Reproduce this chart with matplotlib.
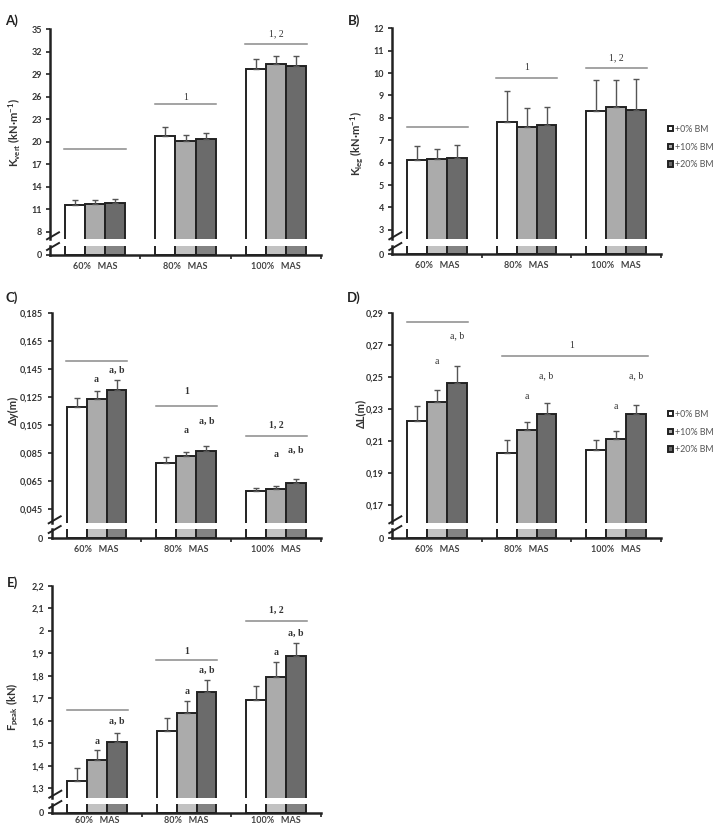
import matplotlib
matplotlib.use('Agg')
import matplotlib.pyplot as plt
from matplotlib.lines import Line2D
import numpy as np

plt.rcParams['mathtext.fontset'] = 'custom'
plt.rcParams['mathtext.rm'] = 'Lato:bold'
plt.rcParams['mathtext.it'] = 'Lato:italic:bold'
plt.rcParams['mathtext.bf'] = 'Lato:bold'

W, H = 718, 826

groups = ['60%   MAS', '80%   MAS', '100%   MAS']
series = ['+0% BM', '+10% BM', '+20% BM']
colors = ['white', '#ababab', '#6b6b6b']
stub_colors = ['white', '#c2c2c2', '#838383']

# A) K vert
A_mean = [[11.6, 20.75, 29.7], [11.75, 20.1, 30.4], [11.9, 20.35, 30.1]]
A_sd = [[0.7, 1.2, 1.4], [0.45, 0.8, 1.1], [0.5, 0.85, 1.4]]
A_ticks = [8, 11, 14, 17, 20, 23, 26, 29, 32, 35]
A_ticklabels = ['8', '11', '14', '17', '20', '23', '26', '29', '32', '35']
A_lines = [(-0.34, 0.34, 19.0), (0.66, 1.34, 25.1), (1.66, 2.34, 33.1)]
A_line_text = [(1, 25.9, '1'), (2, 34.4, '1, 2')]

# B) K leg
B_mean = [[6.1, 7.8, 8.33], [6.15, 7.6, 8.5], [6.2, 7.67, 8.37]]
B_sd = [[0.65, 1.38, 1.37], [0.48, 0.85, 1.2], [0.6, 0.83, 1.38]]
B_ticks = [3, 4, 5, 6, 7, 8, 9, 10, 11, 12]
B_ticklabels = ['3', '4', '5', '6', '7', '8', '9', '10', '11', '12']
B_lines = [(-0.34, 0.34, 7.6), (0.66, 1.34, 9.8), (1.66, 2.34, 10.24)]
B_line_text = [(1, 10.25, '1'), (2, 10.7, '1, 2')]

# C) delta y
C_mean = [[0.118, 0.0779, 0.058], [0.1234, 0.0829, 0.0597], [0.130, 0.0864, 0.064]]
C_sd = [[0.006, 0.0043, 0.0024], [0.0056, 0.0028, 0.0019], [0.007, 0.0036, 0.0028]]
C_ticks = [0.045, 0.065, 0.085, 0.105, 0.125, 0.145, 0.165, 0.185]
C_ticklabels = ['0,045', '0,065', '0,085', '0,105', '0,125', '0,145', '0,165', '0,185']
C_lines = [(-0.34, 0.34, 0.1507), (0.66, 1.34, 0.1188), (1.66, 2.34, 0.0974)]
C_line_text = [(1, 0.129, '1'), (2, 0.1045, '1, 2')]
C_a = [0.1376, 0.101, 0.0837]
C_ab = [0.144, 0.108, 0.087]

# D) delta L
D_mean = [[0.2223, 0.2027, 0.2047], [0.2344, 0.2167, 0.2113], [0.2463, 0.2266, 0.2266]]
D_sd = [[0.0096, 0.0079, 0.0059], [0.0074, 0.0055, 0.0052], [0.0104, 0.0071, 0.0061]]
D_ticks = [0.17, 0.19, 0.21, 0.23, 0.25, 0.27, 0.29]
D_ticklabels = ['0,17', '0,19', '0,21', '0,23', '0,25', '0,27', '0,29']
D_lines = [(-0.34, 0.34, 0.2844), (0.72, 2.35, 0.263)]
D_line_text = [(1.5, 0.2697, '1')]
D_a = [0.2594, 0.2378, 0.2318]
D_ab = [0.2755, 0.2505, 0.2505]

# E) F peak
E_mean = [[1.332, 1.553, 1.694], [1.4245, 1.635, 1.795], [1.504, 1.728, 1.887]]
E_sd = [[0.058, 0.059, 0.061], [0.047, 0.052, 0.066], [0.043, 0.053, 0.06]]
E_ticks = [1.3, 1.4, 1.5, 1.6, 1.7, 1.8, 1.9, 2.0, 2.1, 2.2]
E_ticklabels = ['1,3', '1,4', '1,5', '1,6', '1,7', '1,8', '1,9', '2', '2,1', '2,2']
E_lines = [(-0.34, 0.34, 1.648), (0.66, 1.34, 1.869), (1.66, 2.34, 2.043)]
E_line_text = [(1, 1.907, '1'), (2, 2.091, '1, 2')]
E_a = [1.509, 1.728, 1.904]
E_ab = [1.596, 1.824, 1.989]

fig = plt.figure(figsize=(W / 100, H / 100), dpi=100)
fig.patch.set_facecolor('white')

def rect(l, t, r, b):
    return [l / W, 1 - b / H, (r - l) / W, (b - t) / H]

def px_line(x0, y0, x1, y1):
    fig.add_artist(Line2D([x0 / W, x1 / W], [1 - y0 / H, 1 - y1 / H], color='#222', lw=1.4))

bw = 0.222
x = np.arange(3)
tickfont = dict(family='Lato', weight='bold', size=6.5)
serif = ['Liberation Serif', 'DejaVu Serif']

def panel(box, stub, ylim, mean, sd, ticks, ticklabels, lines, line_text,
          letter, letter_xy, ylabel, ylab_xy, a=None, ab=None, bold_notes=False,
          legend_y=None, xlab_off=-8):
    l, t, r, b = box
    ax = fig.add_axes(rect(l, t, r, b))
    st = fig.add_axes(rect(l, stub[0], r, stub[1]))
    for i in range(3):
        ax.bar(x + (i - 1) * bw, mean[i], bw, color=colors[i], edgecolor='#222',
               linewidth=1.4, label=series[i],
               yerr=[np.zeros(3), sd[i]],
               error_kw=dict(ecolor='#555', elinewidth=1, capsize=2.2, capthick=1))
        st.bar(x + (i - 1) * bw, mean[i], bw, color=stub_colors[i], edgecolor='#222',
               linewidth=1.4)
    ax.set_xlim(-0.5, 2.5)
    ax.set_ylim(*ylim)
    st.set_xlim(-0.5, 2.5)
    # lower stub of the broken axis: only the base of each bar shows
    st.set_ylim(0, ylim[0] * 0.05)
    for s in ['top', 'right', 'bottom']:
        ax.spines[s].set_visible(False)
    for s in ['top', 'right']:
        st.spines[s].set_visible(False)
    for sp in [ax.spines['left'], st.spines['left'], st.spines['bottom']]:
        sp.set_linewidth(1.8)
        sp.set_color('#222')
    ax.set_xticks([])
    ax.set_yticks(ticks)
    ax.set_yticklabels(ticklabels, **tickfont, color='#333')
    ax.tick_params(axis='y', length=3, width=1.2, color='#222', pad=3)
    st.set_yticks([0])
    st.set_yticklabels(['0'], **tickfont, color='#333')
    st.set_xticks([0.5, 1.5, 2.5])
    st.set_xticklabels([])
    st.tick_params(length=3, width=1.2, color='#222', pad=3)
    for gi, g in enumerate(groups):
        st.annotate(g, xy=(gi, 0), xycoords=('data', 'axes fraction'), xytext=(0, xlab_off),
                    textcoords='offset points', ha='center', va='center',
                    **tickfont, color='#444', annotation_clip=False)
    for x0, x1, yv in lines:
        ax.plot([x0, x1], [yv, yv], color='#8a8a8a', lw=1.1)
    weight = 'bold' if bold_notes else 'normal'
    for xv, yv, s in line_text:
        ax.text(xv, yv, s, ha='center', va='center', family=serif, size=7,
                color='#333', weight=weight)
    if a is not None:
        for gi in range(3):
            ax.text(gi, a[gi], 'a', ha='center', va='center', family=serif, size=7,
                    color='#333', weight=weight)
            ax.text(gi + bw, ab[gi], 'a, b', ha='center', va='center', family=serif,
                    size=7, color='#333', weight=weight)
    # axis break marks
    px_line(l - 3, b, l + 9, b - 7)
    px_line(l - 3, stub[0] + 4, l + 9, stub[0] - 3)
    fig.text(letter_xy[0] / W, 1 - letter_xy[1] / H, letter, ha='center', va='center',
             family='Lato', weight='bold', size=9.5, color='#222')
    fig.text(ylab_xy[0] / W, 1 - ylab_xy[1] / H, ylabel, rotation=90, ha='center',
             va='center', family=['Lato', 'DejaVu Sans'], weight='bold', size=8,
             color='#333')
    if legend_y is not None:
        ax.legend(loc='center left', bbox_to_anchor=(668 / W, 1 - legend_y / H),
                  bbox_transform=fig.transFigure, frameon=False, handlelength=0.6,
                  handleheight=0.6, handletextpad=0.2, labelspacing=1.0,
                  borderpad=0, borderaxespad=0,
                  prop=dict(family='Lato', size=6.4), labelcolor='#555')
    return ax

panel((50, 29.3, 321, 239.3), (246, 255), (7.0, 35), A_mean, A_sd, A_ticks, A_ticklabels,
      A_lines, A_line_text, 'A)', (12, 21), 'K$_{\\mathrm{vert}}$ (kN·m$^{\\mathrm{-1}}$)',
      (15, 133))
panel((392.3, 28.3, 661, 239.3), (246, 254), (2.58, 12), B_mean, B_sd, B_ticks, B_ticklabels,
      B_lines, B_line_text, 'B)', (354, 21), 'K$_{\\mathrm{leg}}$ (kN·m$^{\\mathrm{-1}}$)',
      (357, 143), legend_y=147)
panel((51.7, 312.7, 321, 523.3), (529, 538), (0.035, 0.185), C_mean, C_sd, C_ticks,
      C_ticklabels, C_lines, C_line_text, 'C)', (12, 298), 'Δy(m)', (13, 410),
      C_a, C_ab, bold_notes=True)
panel((392.3, 312.7, 661, 523.3), (529, 538), (0.1588, 0.29), D_mean, D_sd, D_ticks,
      D_ticklabels, D_lines, D_line_text, 'D)', (354, 298), 'ΔL(m)', (361, 413),
      D_a, D_ab, legend_y=432)
panel((52.3, 585.7, 321, 797.7), (804, 813), (1.258, 2.2), E_mean, E_sd, E_ticks,
      E_ticklabels, E_lines, E_line_text, 'E)', (12, 583), 'F$_{\\mathrm{peak}}$ (kN)',
      (13, 707), E_a, E_ab, bold_notes=True, xlab_off=-5.5)

fig.savefig('out.png', dpi=100, facecolor='white')
